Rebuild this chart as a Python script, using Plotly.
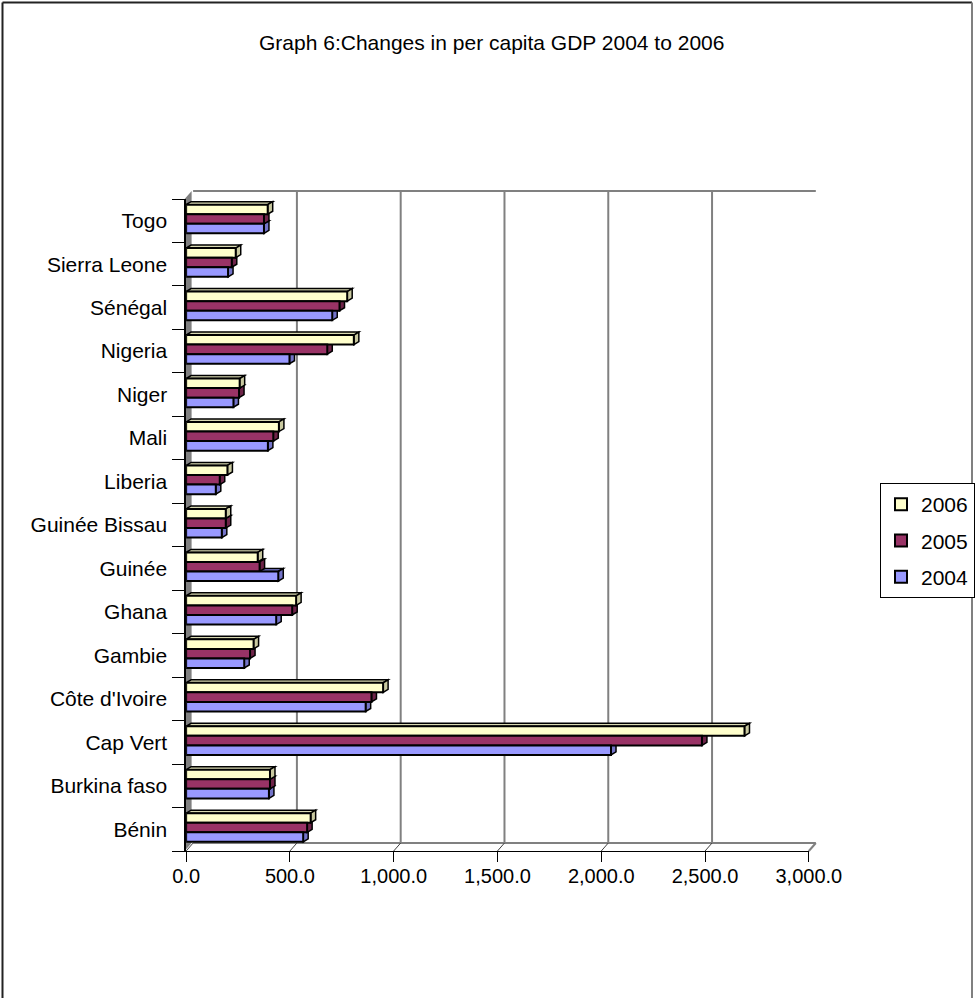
import plotly.graph_objects as go

# ---- data -------------------------------------------------------------
countries = ["Bénin", "Burkina faso", "Cap Vert", "Côte d'Ivoire", "Gambie",
             "Ghana", "Guinée", "Guinée Bissau", "Liberia", "Mali", "Niger",
             "Nigeria", "Sénégal", "Sierra Leone", "Togo"]
gdp_2004 = [564, 399, 2047, 865, 280, 434, 444, 172, 143, 394, 228, 498, 704, 202, 375]
gdp_2005 = [583, 404, 2485, 893, 308, 511, 354, 191, 162, 420, 255, 680, 739, 220, 375]
gdp_2006 = [600, 404, 2690, 949, 325, 530, 345, 191, 199, 447, 258, 808, 776, 239, 393]
years = ["2006", "2005", "2004"]          # legend order, top to bottom
x_ticks = [0, 500, 1000, 1500, 2000, 2500, 3000]

# ---- styling ------------------------------------------------------------
W, H = 975, 998
FONT = "Arial, Liberation Sans, sans-serif"
front_colors = {"2004": "#9999FF", "2005": "#993366", "2006": "#FFFFCC"}
side_colors = {"2004": "#7373C8", "2005": "#6E2449", "2006": "#C9C9A0"}
top_colors = {"2004": "#8282E0", "2005": "#80294F", "2006": "#DADAB2"}

# plot-area geometry in pixels
X0_PX, X1_PX = 186.5, 810.5          # front axis: 0 .. 3000
Y_TOP_PX, Y_BOT_PX = 199, 851        # category band
WALL_DX, WALL_DY = 7, 8              # depth of the walls
BAR_DX, BAR_DY = 5, 3                # depth of each bar
X_MAX = 3000

BAR_W = 0.22
offsets = {"2004": -0.29, "2005": -0.07, "2006": 0.15}


def px(x):
    return x / W


def py(y):
    return 1 - y / H


units_per_px = X_MAX / (X1_PX - X0_PX)
cats_per_px = len(countries) / (Y_BOT_PX - Y_TOP_PX)

series = {"2004": gdp_2004, "2005": gdp_2005, "2006": gdp_2006}

fig = go.Figure()
for yr in years:
    fig.add_trace(go.Bar(
        y=countries, x=series[yr], orientation="h", name=yr,
        width=BAR_W, offset=offsets[yr], legendgroup=yr,
        marker=dict(color=front_colors[yr], line=dict(color="black", width=2)),
    ))

shapes = []
grey = "#808080"

# left side wall
shapes.append(dict(
    type="path", xref="paper", yref="paper", layer="below",
    path=(f"M{px(185)},{py(Y_TOP_PX)} L{px(185 + WALL_DX)},{py(Y_TOP_PX - WALL_DY)} "
          f"L{px(185 + WALL_DX)},{py(Y_BOT_PX - WALL_DY)} L{px(185)},{py(Y_BOT_PX)} Z"),
    fillcolor=grey, line=dict(width=0),
))
# top edge of back wall
shapes.append(dict(
    type="line", xref="paper", yref="paper", layer="below",
    x0=px(X0_PX + WALL_DX), x1=px(X1_PX + WALL_DX),
    y0=py(Y_TOP_PX - WALL_DY), y1=py(Y_TOP_PX - WALL_DY),
    line=dict(color=grey, width=2),
))
# back edge of floor and its right diagonal
shapes.append(dict(
    type="line", xref="paper", yref="paper", layer="below",
    x0=px(X0_PX + WALL_DX), x1=px(X1_PX + WALL_DX),
    y0=py(Y_BOT_PX - WALL_DY), y1=py(Y_BOT_PX - WALL_DY),
    line=dict(color=grey, width=2),
))
shapes.append(dict(
    type="line", xref="paper", yref="paper", layer="below",
    x0=px(X1_PX + WALL_DX), x1=px(X1_PX),
    y0=py(Y_BOT_PX - WALL_DY), y1=py(Y_BOT_PX),
    line=dict(color=grey, width=2),
))

# gridlines on the back wall and floor connectors at each tick
for t in x_ticks:
    if t > 0:
        shapes.append(dict(
            type="line", xref="x", yref="paper", layer="below",
            xsizemode="pixel", xanchor=t, x0=WALL_DX, x1=WALL_DX,
            y0=py(Y_BOT_PX - WALL_DY), y1=py(Y_TOP_PX - WALL_DY),
            line=dict(color=grey, width=2),
        ))
    shapes.append(dict(
        type="line", xref="x", yref="paper", layer="below",
        xsizemode="pixel", xanchor=t, x0=0, x1=WALL_DX,
        y0=py(Y_BOT_PX), y1=py(Y_BOT_PX - WALL_DY),
        line=dict(color="#404040", width=1),
    ))

# 3-D faces of each bar (top and right side), drawn bottom series first
dx_units = BAR_DX * units_per_px
dy_cats = BAR_DY * cats_per_px
for i, _ in enumerate(countries):
    for yr in ["2004", "2005", "2006"]:
        v = series[yr][i]
        bot = i + offsets[yr]
        top = bot + BAR_W
        shapes.append(dict(
            type="path", xref="x", yref="y", layer="below",
            ysizemode="pixel", yanchor=top,
            path=f"M0,0 L{v},0 L{v + dx_units},{BAR_DY} L{dx_units},{BAR_DY} Z",
            fillcolor=top_colors[yr], line=dict(color="black", width=1.5),
        ))
        shapes.append(dict(
            type="path", xref="x", yref="y", layer="below",
            xsizemode="pixel", xanchor=v,
            path=f"M0,{bot} L0,{top} L{BAR_DX},{top + dy_cats} L{BAR_DX},{bot + dy_cats} Z",
            fillcolor=side_colors[yr], line=dict(color="black", width=1.5),
        ))

# outer chart border
shapes.append(dict(type="line", xref="paper", yref="paper", x0=px(2.5), x1=px(2.5),
                   y0=-0.01, y1=py(2.5), line=dict(color="#222222", width=2)))
shapes.append(dict(type="line", xref="paper", yref="paper", x0=px(2.5), x1=px(974),
                   y0=py(2.5), y1=py(2.5), line=dict(color="#222222", width=2)))
shapes.append(dict(type="line", xref="paper", yref="paper", x0=px(974), x1=px(974),
                   y0=-0.01, y1=py(2.5), line=dict(color=grey, width=2)))

fig.update_layout(
    template="none",
    width=W, height=H,
    margin=dict(l=0, r=0, t=0, b=0, pad=0),
    paper_bgcolor="white",
    plot_bgcolor="rgba(0,0,0,0)",
    barmode="overlay",
    font=dict(family=FONT, size=20, color="black"),
    showlegend=True,
    legend=dict(
        x=px(882), y=py(483), xanchor="left", yanchor="top",
        bgcolor="white", bordercolor="black", borderwidth=1,
        traceorder="grouped", tracegroupgap=6,
        font=dict(family=FONT, size=21, color="black"),
    ),
    xaxis=dict(
        domain=[px(X0_PX), px(X1_PX)], range=[0, X_MAX],
        tickvals=x_ticks, tickformat=",.1f",
        showgrid=False, zeroline=False,
        showline=True, linecolor="black", linewidth=1,
        ticks="outside", ticklen=10, tickcolor="black", tickwidth=1,
        ticklabelstandoff=-3,
        tickfont=dict(family=FONT, size=20, color="black"),
        automargin=False, fixedrange=True,
    ),
    yaxis=dict(
        domain=[py(Y_BOT_PX), py(Y_TOP_PX)],
        type="category", categoryorder="array", categoryarray=countries,
        range=[-0.5, len(countries) - 0.5],
        showgrid=False, zeroline=False,
        showline=True, linecolor="black", linewidth=1.5,
        ticks="outside", ticklen=12, tickcolor="black", tickwidth=1,
        tickson="boundaries", ticklabelstandoff=13,
        tickfont=dict(family=FONT, size=21, color="black"),
        automargin=False, fixedrange=True,
    ),
    shapes=shapes,
    annotations=[dict(
        text="Graph 6:Changes in per capita GDP 2004 to 2006",
        xref="paper", yref="paper", x=px(493), y=py(42),
        xanchor="center", yanchor="middle", showarrow=False,
        font=dict(family=FONT, size=21, color="black"),
    )],
)

fig.write_html("out.html")
